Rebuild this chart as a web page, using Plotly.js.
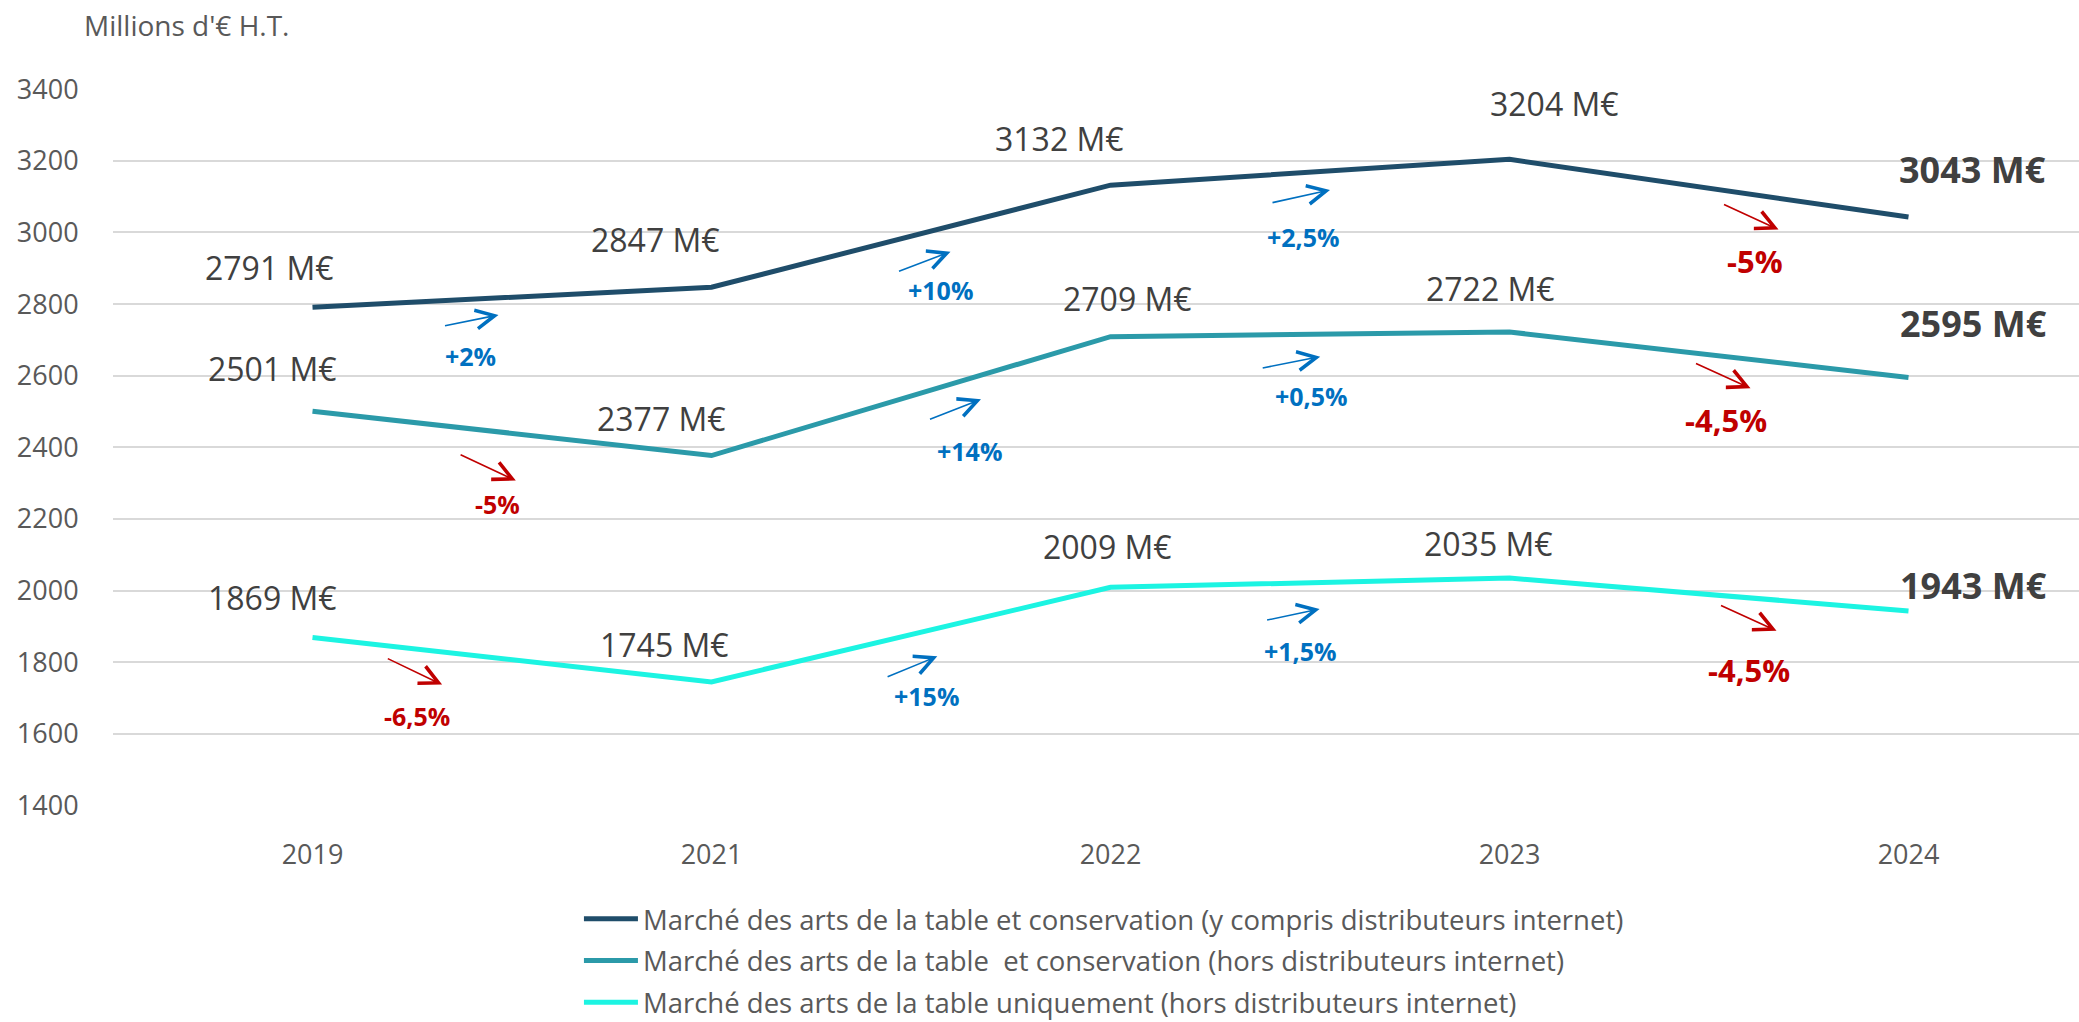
<!DOCTYPE html>
<html>
<head>
<meta charset="utf-8">
<script src="https://cdn.plot.ly/plotly-3.0.1.min.js"></script>
<style>
  html, body { margin: 0; padding: 0; background: #ffffff; }
  #chart { width: 2079px; height: 1022px; }
</style>
</head>
<body>
<div id="chart"></div>
<script>
// ---------------- DATA ----------------
const years = ['2019', '2021', '2022', '2023', '2024'];

const seriesNames = [
  'Marché des arts de la table et conservation (y compris distributeurs internet)',
  'Marché des arts de la table  et conservation (hors distributeurs internet)',
  'Marché des arts de la table uniquement (hors distributeurs internet)'
];

const totalWithInternet = [2791, 2847, 3132, 3204, 3043];
const totalExclInternet = [2501, 2377, 2709, 2722, 2595];
const tableOnly         = [1869, 1745, 2009, 2035, 1943];

const growthWithInternet = ['+2%', '+10%', '+2,5%', '-5%'];
const growthExclInternet = ['-5%', '+14%', '+0,5%', '-4,5%'];
const growthTableOnly    = ['-6,5%', '+15%', '+1,5%', '-4,5%'];

const unitLabel = " M€";
const yAxisCaption = "Millions d'€ H.T.";

// ---------------- STYLE / PLACEMENT ----------------
const lineColors = ['#1F4D6A', '#2B9AA9', '#1CF4E2'];
const posColor = '#0070C0';
const negColor = '#C00000';
const textGray = '#404040';
const axisGray = '#595959';
const FONT = 'Open Sans, Lato, sans-serif';

// value-label pixel offsets from each point [dx, dy(up)]
const valueOffsets = [
  [[-43, 40], [-56, 48], [-51, 47], [45, 56], [64, 48]],
  [[-40, 43], [-50, 37], [17, 38], [-19, 44], [65, 54]],
  [[-40, 40], [-47, 37], [-3, 41], [-21, 35], [65, 25]]
];
// arrow: head offset from segment midpoint [dx, dy(down)], tail offset from head [ax, ay(down)]
const arrowOffsets = [
  [[-13.5, 17.7, -55, 11], [39.5, 15.5, -53, 20], [20, 17.7, -59, 13], [69.5, 41.3, -56, -25.6]],
  [[3.8, 47.2, -56.7, -26.4], [70, 3.1, -52.5, 20.7], [10.2, 22.3, -59, 11.6], [41.5, 33.5, -56, -25.5]],
  [[-69.9, 24.9, -55.8, -26.7], [26.3, 21.7, -51.2, 21], [9.6, 26.3, -54, 11.4], [67.5, 36.2, -57, -26]]
];
// growth label offset from segment midpoint [dx, dy(down)]
const growthLabelOffsets = [
  [[-41.75, 58.7], [29.5, 53.8], [-6.7, 65.1], [45.5, 72.9]],
  [[-15, 70.5], [58.5, 54.5], [1.3, 61.3], [16.9, 65.2]],
  [[-95.5, 55.9], [15.8, 61.7], [-10, 68.7], [40.1, 75]]
];

// ---------------- BUILD ----------------
const allSeries = [totalWithInternet, totalExclInternet, tableOnly];
const allGrowth = [growthWithInternet, growthExclInternet, growthTableOnly];
const xIdx = years.map((_, i) => i);

const traces = allSeries.map((vals, s) => ({
  type: 'scatter',
  mode: 'lines',
  x: xIdx,
  y: vals,
  name: seriesNames[s],
  legendgroup: 'g' + s,
  line: { color: lineColors[s], width: 5 },
  hoverinfo: 'skip'
}));

const annotations = [];

// axis caption
annotations.push({
  xref: 'paper', yref: 'paper',
  x: -0.016, y: 1.089,
  xanchor: 'left', yanchor: 'middle',
  text: yAxisCaption, showarrow: false,
  font: { family: FONT, size: 28, color: axisGray }
});

allSeries.forEach((vals, s) => {
  vals.forEach((v, i) => {
    const last = i === vals.length - 1;
    annotations.push({
      x: i, y: v, xref: 'x', yref: 'y',
      text: last ? '<b>' + v + unitLabel + '</b>' : v + unitLabel,
      showarrow: false,
      xshift: valueOffsets[s][i][0],
      yshift: valueOffsets[s][i][1],
      font: { family: FONT, size: last ? 36 : 32, color: textGray }
    });
  });
  allGrowth[s].forEach((g, i) => {
    const midX = i + 0.5;
    const midY = (vals[i] + vals[i + 1]) / 2;
    const neg = g.trim().startsWith('-');
    const color = neg ? negColor : posColor;
    const big = i === allGrowth[s].length - 1;
    const a = arrowOffsets[s][i];
    annotations.push({
      x: midX, y: midY, xref: 'x', yref: 'y',
      text: '', showarrow: true,
      ax: a[2], ay: a[3], axref: 'pixel', ayref: 'pixel',
      xshift: a[0], yshift: -a[1],
      arrowhead: 5, arrowsize: 2.3, arrowwidth: 1.6, arrowcolor: color,
      standoff: 0, startstandoff: 0
    });
    const l = growthLabelOffsets[s][i];
    annotations.push({
      x: midX, y: midY, xref: 'x', yref: 'y',
      text: '<b>' + g + '</b>', showarrow: false,
      xshift: l[0], yshift: -l[1],
      font: { family: FONT, size: big ? 31 : 25, color: color }
    });
  });
});

const layout = {
  width: 2079, height: 1022,
  margin: { l: 113, r: 0, t: 89, b: 216, pad: 0, autoexpand: false },
  paper_bgcolor: '#ffffff', plot_bgcolor: '#ffffff',
  showlegend: true,
  hovermode: false,
  font: { family: FONT, color: axisGray },
  xaxis: {
    type: 'linear',
    range: [-0.5, -0.5 + 1966 / 399],
    tickmode: 'array', tickvals: xIdx, ticktext: years,
    showgrid: false, zeroline: false, showline: false,
    ticks: 'outside', ticklen: 25, tickcolor: 'rgba(0,0,0,0)',
    tickfont: { family: FONT, size: 27, color: axisGray },
    fixedrange: true
  },
  yaxis: {
    range: [1398.5, 3400.5],
    tickmode: 'array',
    tickvals: [1400, 1600, 1800, 2000, 2200, 2400, 2600, 2800, 3000, 3200, 3400],
    showgrid: true, gridcolor: '#D9D9D9', gridwidth: 2,
    zeroline: false, showline: false,
    ticks: 'outside', ticklen: 28, tickcolor: 'rgba(0,0,0,0)',
    tickfont: { family: FONT, size: 27, color: axisGray },
    fixedrange: true
  },
  legend: {
    orientation: 'v',
    x: 0.237, xanchor: 'left',
    y: -0.1234, yanchor: 'top',
    traceorder: 'grouped',
    tracegroupgap: 3,
    itemwidth: 54,
    font: { family: FONT, size: 27.5, color: axisGray },
    bgcolor: 'rgba(0,0,0,0)'
  },
  annotations: annotations
};

Plotly.newPlot('chart', traces, layout, { displayModeBar: false, staticPlot: true });
</script>
</body>
</html>
